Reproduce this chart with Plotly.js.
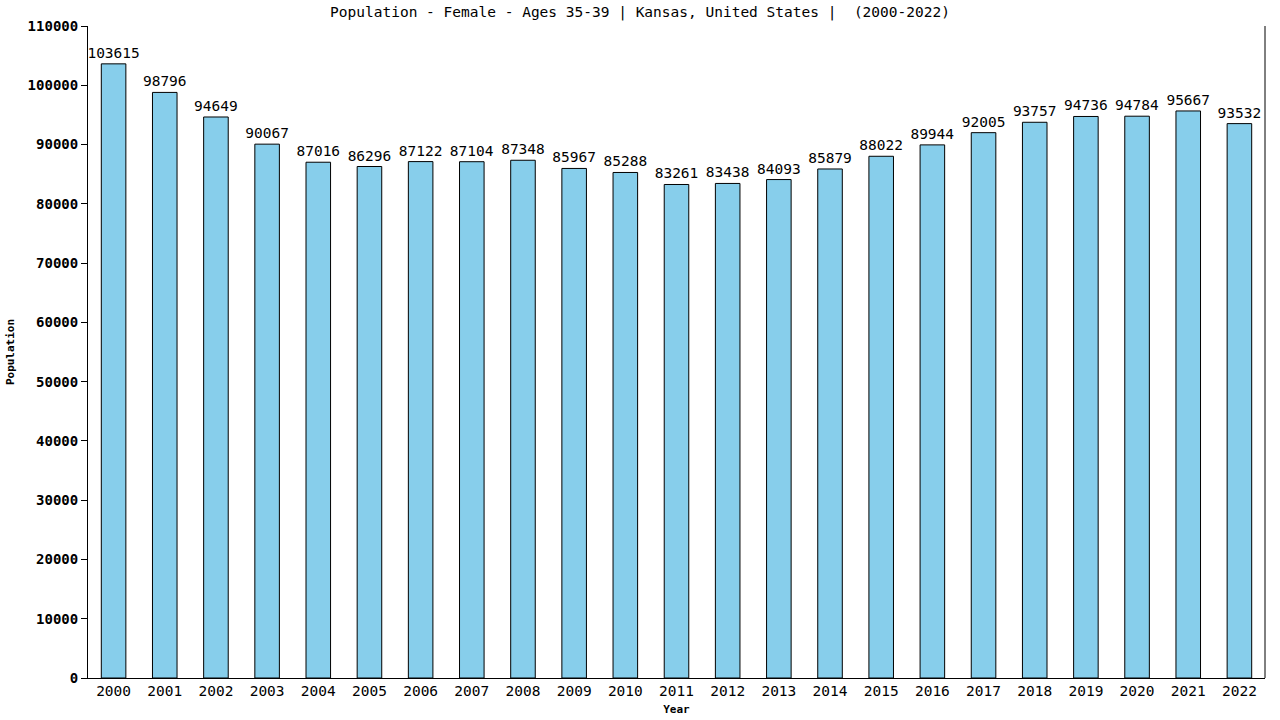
<!DOCTYPE html>
<html>
<head>
<meta charset="utf-8">
<script src="https://cdn.plot.ly/plotly-3.0.1.min.js"></script>
<style>
	html, body { margin: 0; padding: 0; background: #fff; }
	#chart { width: 1280px; height: 720px; }
</style>
</head>
<body>
<div id="chart"></div>
<script>
const years = [
	"2000", "2001", "2002", "2003", "2004", "2005", "2006", "2007",
	"2008", "2009", "2010", "2011", "2012", "2013", "2014", "2015",
	"2016", "2017", "2018", "2019", "2020", "2021", "2022",
];
const population = [
	103615, 98796, 94649, 90067, 87016, 86296, 87122, 87104,
	87348, 85967, 85288, 83261, 83438, 84093, 85879, 88022,
	89944, 92005, 93757, 94736, 94784, 95667, 93532,
];
const yTicks = [];
for (let v = 0; v <= 110000; v += 10000) {
	yTicks.push(v);
}

const FONT = "DejaVu Sans Mono, monospace";

const trace = {
	type: "bar",
	x: years,
	y: population,
	width: 0.48,
	marker: {
		color: "#87ceeb",
		line: { color: "#000", width: 1 },
	},
	text: population.map(String),
	textposition: "outside",
	constraintext: "none",
	cliponaxis: false,
	textfont: { family: FONT, size: 14.5, color: "#000" },
	hoverinfo: "x+y",
};

const layout = {
	width: 1280,
	height: 720,
	margin: { l: 88, r: 15, t: 26, b: 42 },
	paper_bgcolor: "#fff",
	plot_bgcolor: "#fff",
	showlegend: false,
	bargap: 0.5,
	title: {
		text: "Population - Female - Ages 35-39 | Kansas, United States |  (2000-2022)",
		font: { family: FONT, size: 14.5, color: "#000" },
		x: 0.5,
		xanchor: "center",
		y: 0.99,
		yanchor: "top",
	},
	xaxis: {
		type: "category",
		showline: true,
		linecolor: "#000",
		linewidth: 1,
		mirror: false,
		ticks: "",
		showgrid: false,
		tickfont: { family: FONT, size: 14.5, color: "#000" },
		title: {
			text: "<b>Year</b>",
			font: { family: FONT, size: 11, color: "#000" },
			standoff: 6,
		},
	},
	yaxis: {
		range: [0, 110000],
		tickvals: yTicks,
		ticktext: yTicks.map(v => "<b>" + v + "</b>"),
		showline: true,
		linecolor: "#000",
		linewidth: 1,
		ticks: "outside",
		ticklen: 6,
		tickcolor: "#000",
		showgrid: false,
		zeroline: false,
		tickfont: { family: FONT, size: 14, color: "#000" },
		title: {
			text: "<b>Population</b>",
			font: { family: FONT, size: 11, color: "#000" },
			standoff: 10,
		},
	},
	shapes: [
		{
			type: "line",
			xref: "paper",
			yref: "paper",
			x0: 1.0,
			x1: 1.0,
			y0: 0,
			y1: 1,
			line: { color: "#000", width: 1 },
		},
	],
};

Plotly.newPlot("chart", [trace], layout, { displayModeBar: false, staticPlot: true });
</script>
</body>
</html>
